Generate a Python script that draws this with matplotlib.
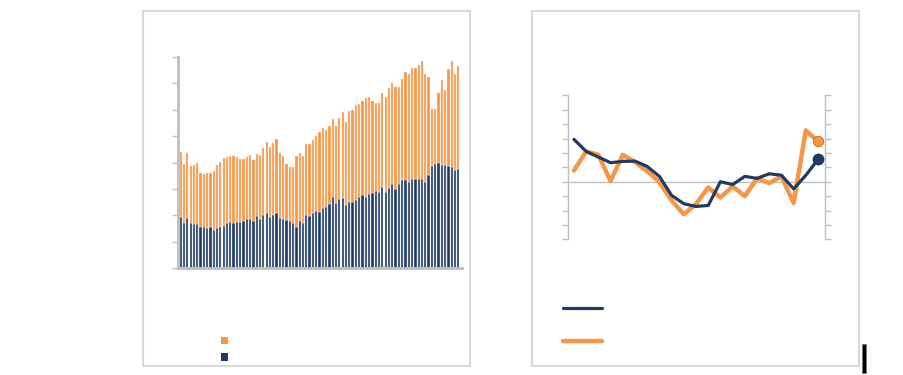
import matplotlib
matplotlib.use("Agg")
import matplotlib.pyplot as plt
import numpy as np
from matplotlib.patches import Rectangle
from matplotlib.lines import Line2D

# ---- data: left stacked bar chart ----
bar_total = [4.41, 3.96, 4.37, 3.88, 3.92, 4.00, 3.61, 3.58, 3.61, 3.62, 3.66, 3.92, 4.02, 4.18,
             4.22, 4.23, 4.23, 4.20, 4.12, 4.12, 4.22, 4.28, 4.10, 4.32, 4.27, 4.54, 4.79, 4.60,
             4.75, 4.89, 4.37, 4.23, 3.96, 3.84, 3.83, 4.23, 4.37, 4.26, 4.71, 4.70, 4.85, 4.99,
             5.14, 5.29, 5.24, 5.39, 5.64, 5.39, 5.70, 5.93, 5.52, 5.95, 6.00, 6.18, 6.22, 6.34,
             6.43, 6.49, 6.34, 6.27, 6.27, 6.62, 6.48, 6.83, 7.00, 6.86, 6.85, 7.15, 7.42, 7.37,
             7.60, 7.59, 7.71, 7.83, 7.35, 7.25, 6.03, 6.03, 6.63, 7.12, 6.76, 7.54, 7.83, 7.37, 7.66]
bar_navy = [1.93, 1.71, 1.88, 1.70, 1.67, 1.67, 1.55, 1.57, 1.52, 1.55, 1.44, 1.53, 1.57, 1.61,
            1.72, 1.73, 1.71, 1.75, 1.75, 1.77, 1.86, 1.87, 1.80, 1.96, 1.85, 2.02, 2.10, 1.93,
            2.02, 2.10, 1.88, 1.87, 1.81, 1.80, 1.70, 1.56, 1.77, 1.70, 2.00, 1.96, 2.07, 2.16,
            2.11, 2.26, 2.30, 2.44, 2.71, 2.47, 2.60, 2.65, 2.37, 2.52, 2.51, 2.59, 2.68, 2.78,
            2.71, 2.80, 2.86, 2.93, 2.88, 3.09, 2.90, 3.04, 3.17, 2.99, 3.17, 3.32, 3.35, 3.27,
            3.39, 3.39, 3.38, 3.39, 3.27, 3.51, 3.87, 3.96, 3.97, 3.91, 3.92, 3.88, 3.83, 3.73, 3.77]
bar_orange = [t - n for t, n in zip(bar_total, bar_navy)]
bar_y_ticks = [0, 1, 2, 3, 4, 5, 6, 7, 8]

# ---- data: right line chart ----
line_navy = [2.94, 2.10, 1.71, 1.32, 1.41, 1.43, 1.06, 0.37, -0.95, -1.53, -1.72, -1.65, 0.00,
             -0.20, 0.37, 0.23, 0.55, 0.45, -0.50, 0.45, 1.55]
line_orange = [0.78, 2.10, 1.87, 0.04, 1.87, 1.36, 0.74, -0.03, -1.30, -2.27, -1.55, -0.40, -1.10,
               -0.33, -1.00, 0.23, -0.10, 0.37, -1.48, 3.56, 2.80]
line_y_ticks = [-4, -3, -2, -1, 0, 1, 2, 3, 4, 5, 6]

ORANGE = "#f79646"
NAVY = "#203a60"
GRID = "#bfbfbf"
BORDER = "#d9d9d9"

W, H = 904, 375
fig = plt.figure(figsize=(W / 100, H / 100), dpi=100)
fig.patch.set_facecolor("white")

def fx(px):
    return px / W

def fy(py):
    return 1 - py / H

# panel borders
for x0, x1 in [(143, 470), (531.5, 858.5)]:
    fig.add_artist(Rectangle((fx(x0), fy(366)), fx(x1) - fx(x0), fy(11) - fy(366),
                             transform=fig.transFigure, fill=False, edgecolor=BORDER, lw=1.5))

# ---- left axes ----
axL = fig.add_axes([fx(178), fy(268), fx(462) - fx(178), fy(57) - fy(268)])
x = np.arange(len(bar_total))
axL.bar(x, bar_navy, width=0.68, color=NAVY, edgecolor="#dce3ee", linewidth=0.3)
axL.bar(x, bar_orange, bottom=bar_navy, width=0.68, color=ORANGE, edgecolor="#fde3cf", linewidth=0.3)
axL.set_xlim(-0.82, len(bar_total) - 1 + 1.1)
axL.set_ylim(0, 8)
axL.set_yticks(bar_y_ticks)
axL.set_yticklabels([])
axL.set_xticks([])
for s in ["top", "right"]:
    axL.spines[s].set_visible(False)
for s in ["left", "bottom"]:
    axL.spines[s].set_color(GRID)
    axL.spines[s].set_linewidth(2)
axL.tick_params(axis="y", direction="out", length=4, width=1, color=GRID)
axL.set_facecolor("none")

# ---- right axes ----
axR = fig.add_axes([fx(568), fy(239.3), fx(825) - fx(568), fy(95.3) - fy(239.3)])
xi = np.arange(len(line_navy))
axR.axhline(0, color=GRID, lw=1, zorder=1)
axR.plot(xi, line_navy, color=NAVY, lw=2.3, zorder=3, solid_capstyle="round")
axR.plot(xi, line_orange, color=ORANGE, lw=3.2, zorder=2, solid_capstyle="round")
axR.plot([xi[-1]], [line_navy[-1]], "o", color=NAVY, ms=7.5, zorder=4)
axR.plot([xi[-1]], [line_orange[-1]], "o", color=ORANGE, ms=7.5, mec="#c46a1c", mew=0.6, zorder=4)
axR.set_xlim(-0.49, len(line_navy) - 1 + 0.57)
axR.set_ylim(-4, 6)
axR.set_yticks(line_y_ticks)
axR.set_yticklabels([])
axR.set_xticks([])
for s in ["top", "bottom"]:
    axR.spines[s].set_visible(False)
for s in ["left", "right"]:
    axR.spines[s].set_color(GRID)
    axR.spines[s].set_linewidth(1)
axR.tick_params(axis="y", direction="out", length=4, width=1, color=GRID,
                left=True, right=True)
axR.set_facecolor("none")

# ---- legends (manual) ----
fig.add_artist(Rectangle((fx(220.7), fy(344)), fx(7.3), fy(336.7) - fy(344),
                         transform=fig.transFigure, color=ORANGE, lw=0))
fig.add_artist(Rectangle((fx(220.7), fy(360.5)), fx(7.3), fy(353) - fy(360.5),
                         transform=fig.transFigure, color=NAVY, lw=0))
fig.add_artist(Line2D([fx(563), fx(602)], [fy(307.7), fy(307.7)], transform=fig.transFigure,
                      color=NAVY, lw=2.3, solid_capstyle="round"))
fig.add_artist(Line2D([fx(563), fx(602)], [fy(340.7), fy(340.7)], transform=fig.transFigure,
                      color=ORANGE, lw=3.2, solid_capstyle="round"))

# black marker bar at lower right
fig.add_artist(Rectangle((fx(862.3), fy(372.5)), fx(3.4), fy(344) - fy(372.5),
                         transform=fig.transFigure, facecolor="black", edgecolor="#777777", lw=0.6))

fig.savefig("out.png", dpi=100, facecolor="white")
